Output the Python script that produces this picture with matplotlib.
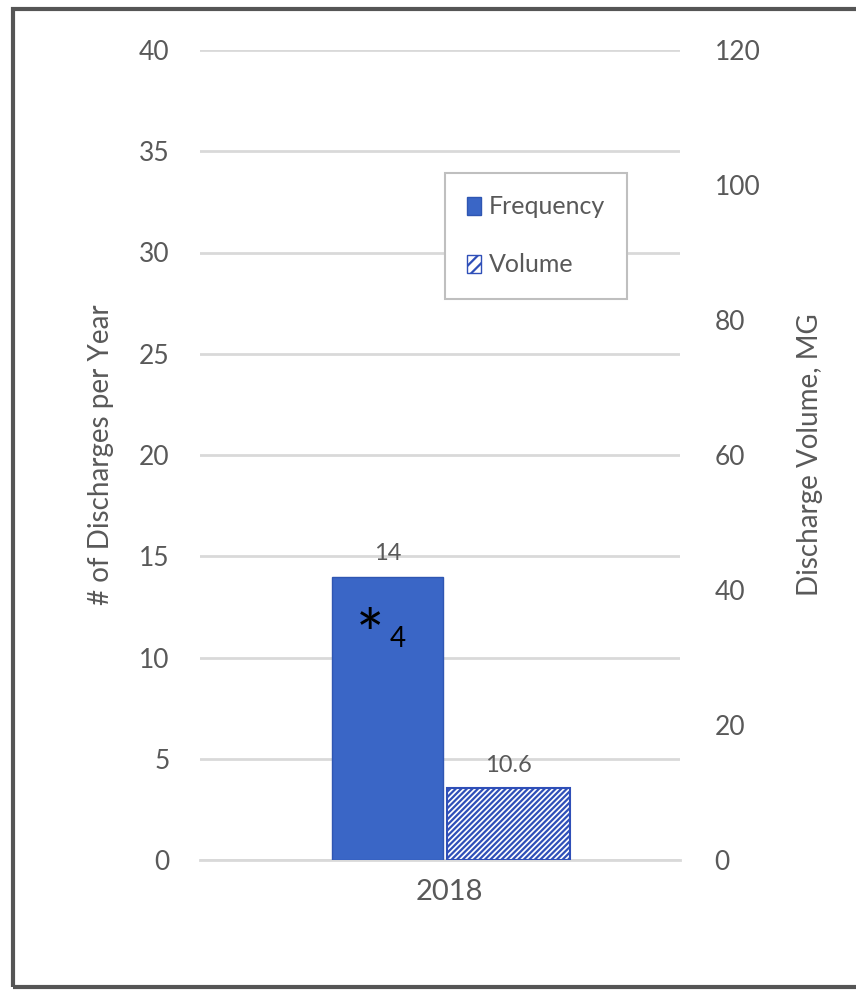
import numpy as np
import matplotlib.pyplot as plt
from matplotlib.patches import Patch, Rectangle

years = ['2018']
frequency = [14]
volume = [10.6]

plt.rcParams['font.family'] = ['Lato', 'DejaVu Sans']
plt.rcParams['hatch.color'] = '#2F4FB8'
plt.rcParams['hatch.linewidth'] = 1.6
grey = '#595959'
blue = '#3A66C6'

fig = plt.figure(figsize=(8.56, 9.9), dpi=100)
ax = fig.add_axes([200/856, 1-860/990, 480/856, 810/990])
ax2 = ax.twinx()

x = np.arange(len(years))
ax.bar(x - 0.258, frequency, 0.46, color=blue, edgecolor='#2F56B2', linewidth=1, zorder=3)
ax2.bar(x + 0.245, volume, 0.51, color='white', edgecolor='#2F4FB8', hatch='//////', linewidth=1.5, zorder=3)

ax.set_xlim(-1.04, 0.96)
ax.set_ylim(0, 40)
ax2.set_ylim(0, 120)
ax.set_yticks(range(0, 41, 5))
ax2.set_yticks(range(0, 121, 20))
ax.set_xticks(x)
ax.set_xticklabels(years)

ax.grid(axis='y', color='#d9d9d9', linewidth=2, zorder=0)
ax.set_axisbelow(True)
for a in (ax, ax2):
    for s in a.spines.values():
        s.set_visible(False)
    a.tick_params(length=0, colors=grey)
ax.spines['bottom'].set_visible(True)
ax.spines['bottom'].set_color('#d9d9d9')
ax.spines['bottom'].set_linewidth(2)
ax.tick_params(axis='y', labelsize=19, pad=22)
ax2.tick_params(axis='y', labelsize=19, pad=25)
ax.tick_params(axis='x', labelsize=21, pad=14)

ax.set_ylabel('# of Discharges per Year', fontsize=20, color=grey, labelpad=18)
ax2.set_ylabel('Discharge Volume, MG', fontsize=20, color=grey, labelpad=26)

for xi, v in zip(x, frequency):
    ax.text(xi - 0.258, v + 0.6, f'{v:g}', ha='center', va='bottom', fontsize=17, color=grey)
for xi, v in zip(x, volume):
    ax2.text(xi + 0.245, v + 1.8, f'{v:g}', ha='center', va='bottom', fontsize=17, color=grey)

# footnote marker inside the frequency bar
ax.text(-0.33, 10.9, '*', fontsize=48, color='black', ha='center', va='center', zorder=5)
ax.text(-0.215, 10.9, '4', fontsize=20, color='black', ha='center', va='center', zorder=5)

handles = [Patch(facecolor=blue, edgecolor='#2F56B2', label='Frequency'),
           Patch(facecolor='white', edgecolor='#2F4FB8', hatch='///', label='Volume')]
leg = ax2.legend(handles=handles, loc='upper left', bbox_to_anchor=(245/480, 1-123/810),
                 fontsize=18, frameon=True, fancybox=False, labelspacing=1.4,
                 handlelength=0.55, handleheight=0.7, handletextpad=0.3,
                 borderpad=0.9, borderaxespad=0)
leg.get_frame().set_edgecolor('#bfbfbf')
leg.get_frame().set_linewidth(1.5)
leg.get_frame().set_alpha(1)
for t in leg.get_texts():
    t.set_color(grey)

# dark frame around the picture
fig.patches.append(Rectangle((13/856, 1-987/990), 900/856, 978/990, transform=fig.transFigure,
                             fill=False, edgecolor='#555555', linewidth=3))

fig.savefig('out.png', dpi=100)
